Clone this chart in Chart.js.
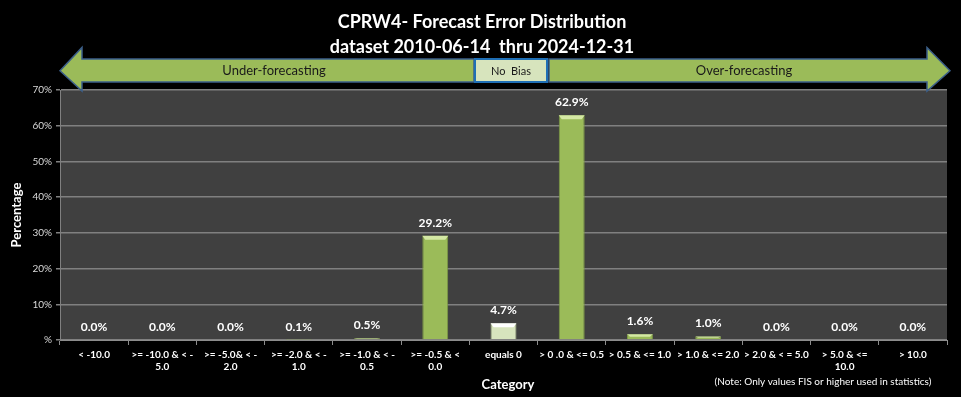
<!DOCTYPE html>
<html>
<head>
<meta charset="utf-8">
<script src="https://cdn.jsdelivr.net/npm/chart.js@4.4.1/dist/chart.umd.min.js"></script>
<style>
  html, body { margin: 0; padding: 0; background: #000; }
  #wrap { width: 961px; height: 397px; }
</style>
</head>
<body>
<div id="wrap"><canvas id="error-chart" width="961" height="397"></canvas></div>
<script>
var categories = [
    '< -10.0',
    ['>= -10.0 & < -', '5.0'],
    ['>= -5.0& < -', '2.0'],
    ['>= -2.0 & < -', '1.0'],
    ['>= -1.0 & < -', '0.5'],
    ['>= -0.5 & <', '0.0'],
    'equals 0',
    '> 0 .0 & <= 0.5',
    '> 0.5 & <= 1.0',
    '> 1.0 & <= 2.0',
    '> 2.0 & < = 5.0',
    ['> 5.0 & <=', '10.0'],
    '> 10.0'
];
var error_pct = [0.0, 0.0, 0.0, 0.1, 0.5, 29.2, 4.7, 62.9, 1.6, 1.0, 0.0, 0.0, 0.0];
var y_tick_labels = ['%', '10%', '20%', '30%', '40%', '50%', '60%', '70%'];
var title_lines = ['CPRW4- Forecast Error Distribution', 'dataset 2010-06-14  thru 2024-12-31'];

var FONT = 'Lato, "Open Sans", sans-serif';
var NO_BIAS_IDX = 6;

// background, arrows, titles and value labels
var decorPlugin = {
    id: 'decor',
    beforeDraw: function (chart) {
        var ctx = chart.ctx, a = chart.chartArea;
        ctx.save();
        ctx.fillStyle = '#000';
        ctx.fillRect(0, 0, chart.width, chart.height);
        ctx.fillStyle = '#404040';
        ctx.fillRect(a.left, a.top, a.right - a.left, a.bottom - a.top);
        ctx.restore();
    },
    afterDatasetsDraw: function (chart) {
        var ctx = chart.ctx;
        var meta = chart.getDatasetMeta(0);
        ctx.save();
        meta.data.forEach(function (bar, i) {
            var h = bar.base - bar.y;
            var half = bar.width / 2;
            if (h > 1) {
                // bevel on top of bar
                var bev = Math.min(4, h / 2);
                ctx.fillStyle = i === NO_BIAS_IDX ? '#ffffff' : '#d4e8a4';
                ctx.beginPath();
                ctx.moveTo(bar.x - half, bar.y);
                ctx.lineTo(bar.x + half, bar.y);
                ctx.lineTo(bar.x + half - 3, bar.y + bev);
                ctx.lineTo(bar.x - half + 3, bar.y + bev);
                ctx.closePath();
                ctx.fill();
            }
            ctx.fillStyle = '#ffffff';
            ctx.font = 'bold 12px ' + FONT;
            ctx.textAlign = 'center';
            ctx.textBaseline = 'middle';
            ctx.fillText(error_pct[i].toFixed(1) + '%', bar.x, bar.y - 13);
        });
        ctx.restore();
    },
    afterDraw: function (chart) {
        var ctx = chart.ctx, a = chart.chartArea;
        ctx.save();

        // title
        ctx.fillStyle = '#ffffff';
        ctx.font = 'bold 18px ' + FONT;
        ctx.textAlign = 'center';
        ctx.textBaseline = 'middle';
        ctx.fillText(title_lines[0], 482, 22);
        ctx.fillText(title_lines[1], 482, 47);

        // arrows
        var tipY = 70.7, headTop = 47.5, headBot = 91, shTop = 59, shBot = 82;
        ctx.lineWidth = 1.5;
        ctx.strokeStyle = '#3b5f8a';
        ctx.fillStyle = '#9bbb59';
        ctx.beginPath();
        ctx.moveTo(a.left, tipY);
        ctx.lineTo(82, headTop);
        ctx.lineTo(82, shTop);
        ctx.lineTo(474, shTop);
        ctx.lineTo(474, shBot);
        ctx.lineTo(82, shBot);
        ctx.lineTo(82, headBot);
        ctx.closePath();
        ctx.fill();
        ctx.stroke();

        ctx.beginPath();
        ctx.moveTo(950, tipY);
        ctx.lineTo(927, headTop);
        ctx.lineTo(927, shTop);
        ctx.lineTo(549, shTop);
        ctx.lineTo(549, shBot);
        ctx.lineTo(927, shBot);
        ctx.lineTo(927, headBot);
        ctx.closePath();
        ctx.fill();
        ctx.stroke();

        // no bias box
        ctx.fillStyle = '#d7e4bd';
        ctx.strokeStyle = '#1f6fb5';
        ctx.lineWidth = 2;
        ctx.fillRect(475, 59, 72, 23);
        ctx.strokeRect(475, 59, 72, 23);

        ctx.fillStyle = '#1a1a1a';
        ctx.font = '13px ' + FONT;
        ctx.fillText('Under-forecasting', 274, 71);
        ctx.fillText('Over-forecasting', 744, 71);
        ctx.font = '11px ' + FONT;
        ctx.fillText('No  Bias', 511, 71);

        // axis titles and note
        ctx.fillStyle = '#ffffff';
        ctx.font = 'bold 13px ' + FONT;
        ctx.fillText('Category', 508, 385);
        ctx.save();
        ctx.translate(17, 215);
        ctx.rotate(-Math.PI / 2);
        ctx.fillText('Percentage', 0, 0);
        ctx.restore();
        ctx.font = '10px ' + FONT;
        ctx.fillText('(Note: Only values FIS or higher used in statistics)', 823, 382);

        ctx.restore();
    }
};

var ErrorChart = new Chart(document.getElementById('error-chart'), {
    type: 'bar',
    data: {
        labels: categories,
        datasets: [{
            label: 'Percentage',
            data: error_pct,
            backgroundColor: function (c) {
                return c.dataIndex === NO_BIAS_IDX ? '#d7e4bd' : '#9bbb59';
            },
            borderColor: function (c) {
                return c.dataIndex === NO_BIAS_IDX ? '#b8c99a' : '#7d9a44';
            },
            borderWidth: 1,
            barPercentage: 0.38,
            categoryPercentage: 1.0
        }]
    },
    plugins: [decorPlugin],
    options: {
        responsive: false,
        animation: false,
        layout: {
            padding: { top: 90, right: 14, left: 0, bottom: 0 }
        },
        plugins: {
            legend: { display: false },
            title: { display: false },
            tooltip: { enabled: false }
        },
        scales: {
            x: {
                grid: {
                    offset: true,
                    drawOnChartArea: false,
                    drawTicks: true,
                    tickLength: 5,
                    color: '#8c8c8c'
                },
                border: { color: '#8c8c8c' },
                ticks: {
                    color: '#ffffff',
                    font: { family: FONT, size: 10, weight: 'bold' },
                    maxRotation: 0,
                    autoSkip: false,
                    padding: 4
                },
                afterFit: function (scale) { scale.height = 57; }
            },
            y: {
                min: 0,
                max: 70,
                ticks: {
                    stepSize: 10,
                    color: '#d9d9d9',
                    font: { family: FONT, size: 10 },
                    padding: 4,
                    callback: function (v, i) { return y_tick_labels[i]; }
                },
                grid: {
                    color: '#808080',
                    lineWidth: 1.5,
                    tickLength: 4
                },
                border: { color: '#808080' },
                afterFit: function (scale) { scale.width = 60; }
            }
        }
    }
});
</script>
</body>
</html>
